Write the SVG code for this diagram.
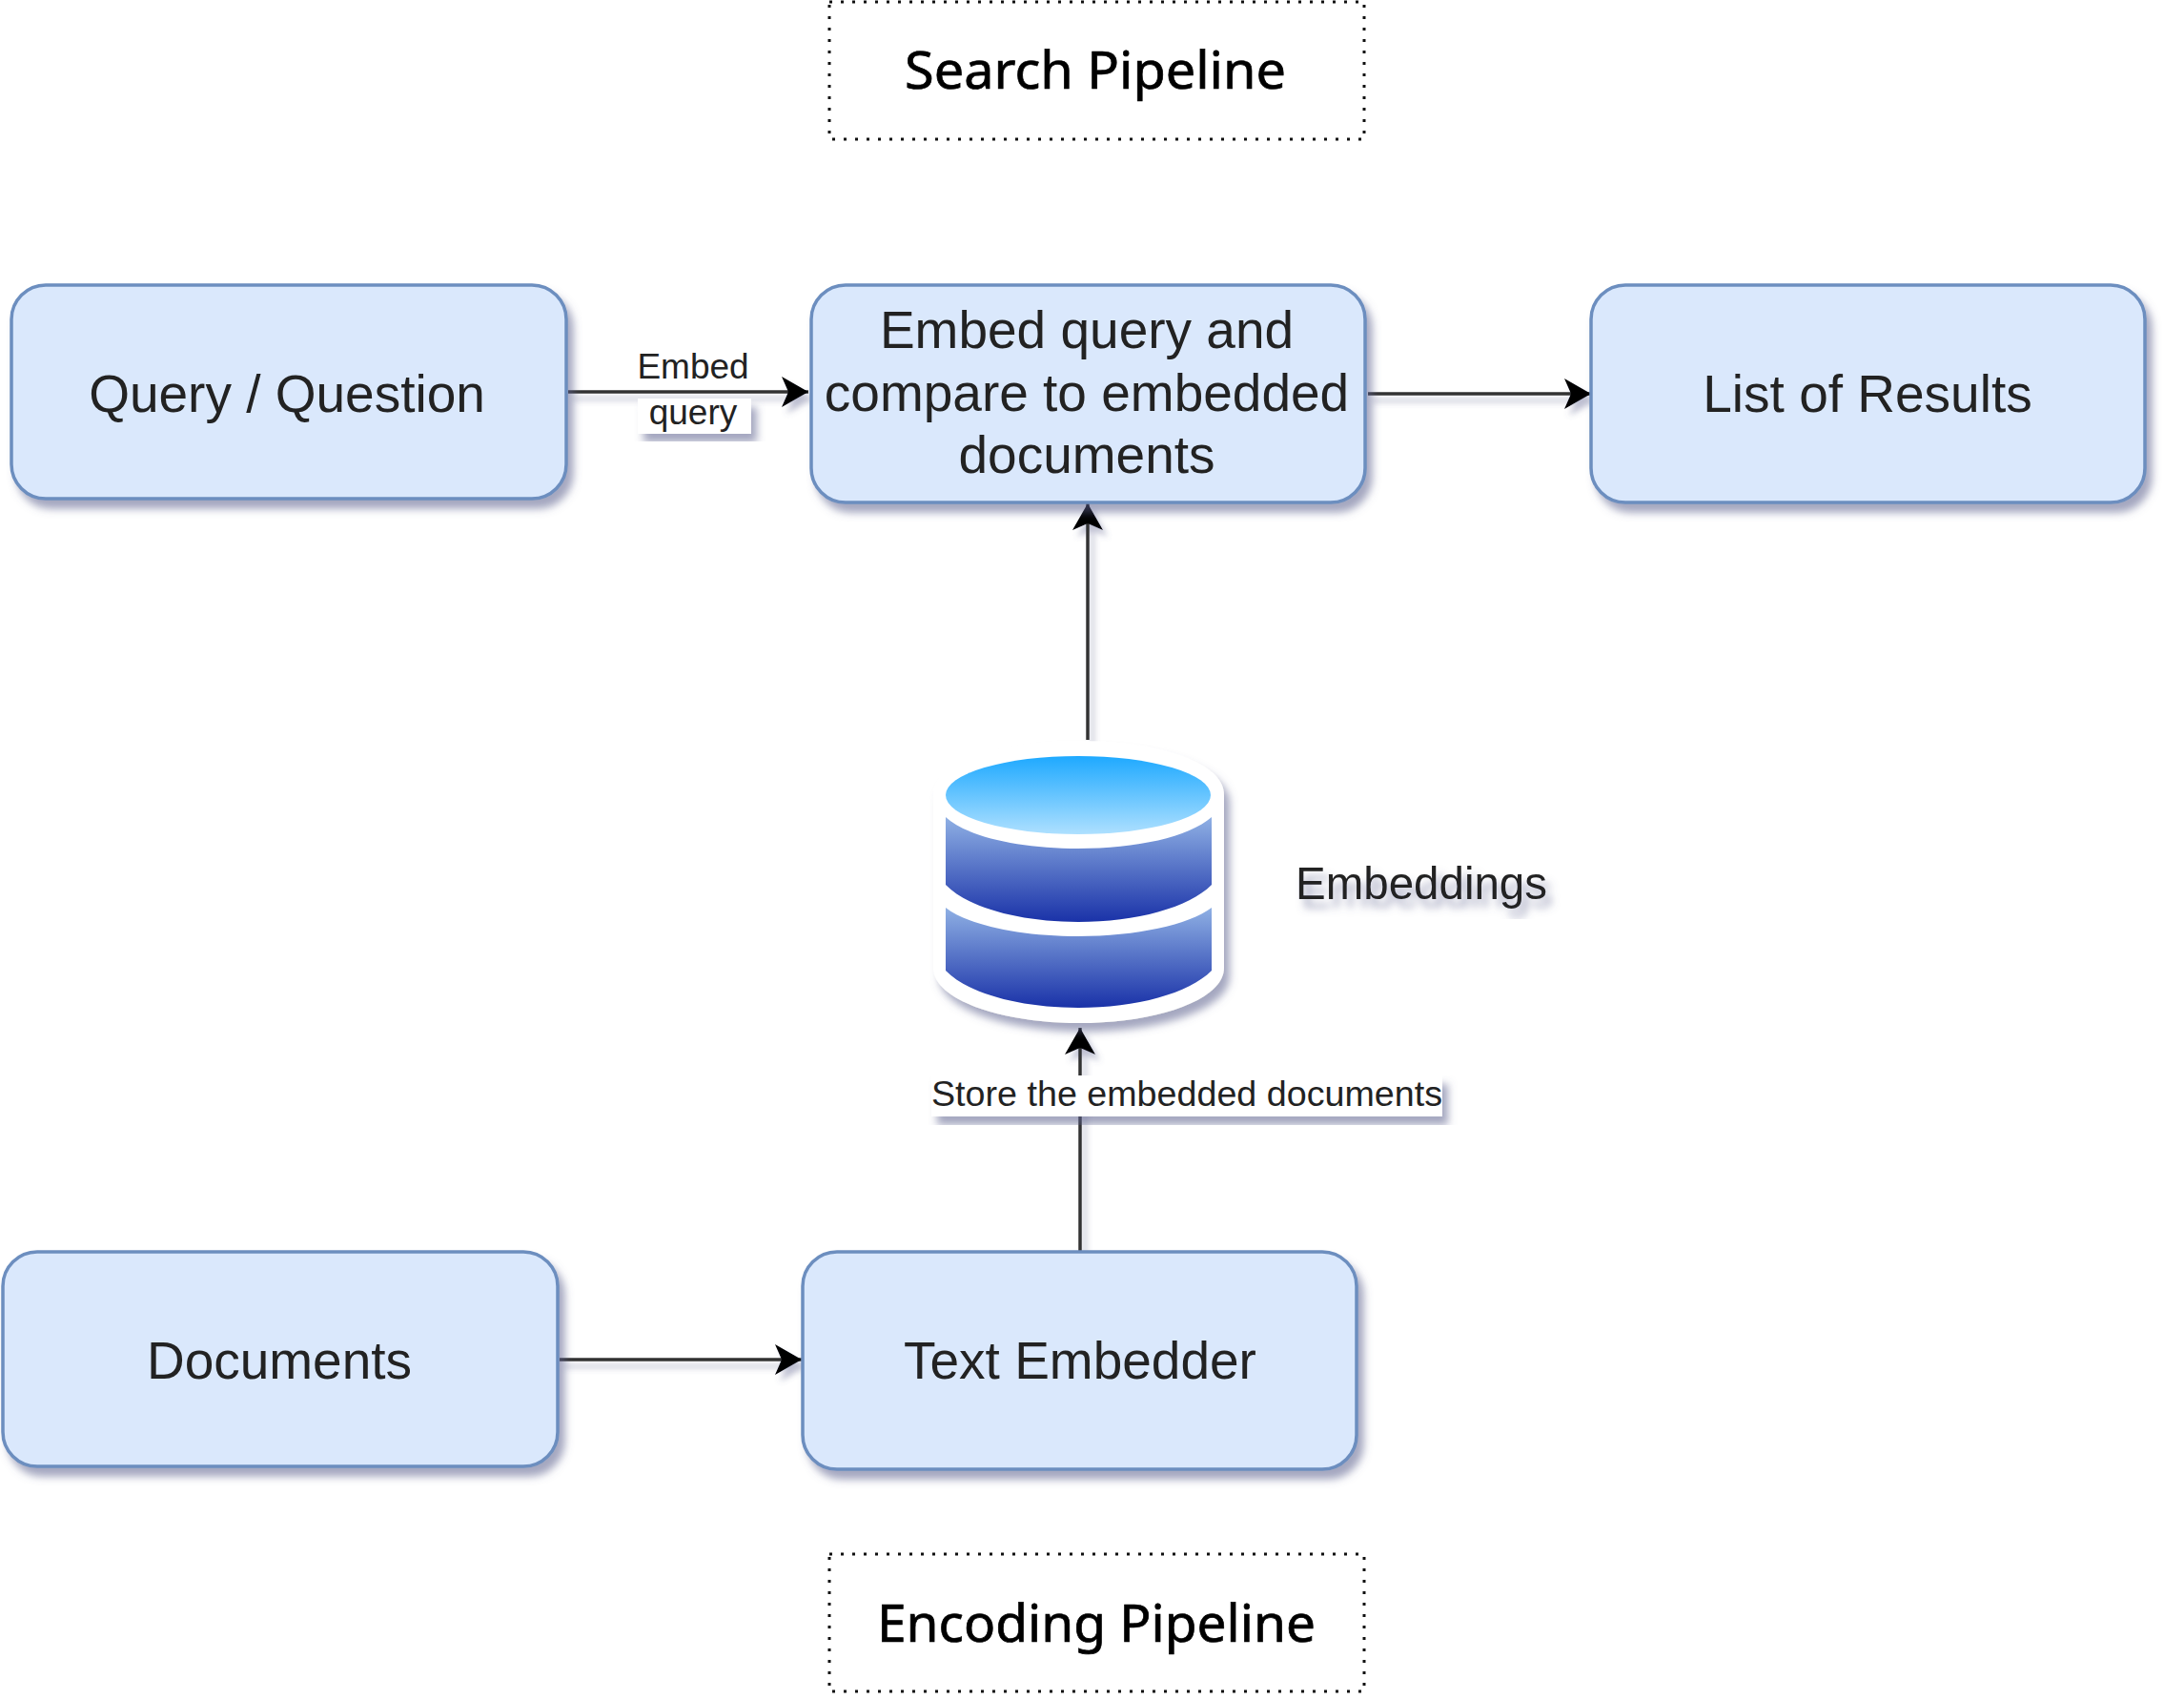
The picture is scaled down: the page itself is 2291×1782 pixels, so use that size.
<svg xmlns="http://www.w3.org/2000/svg" width="2291" height="1782" viewBox="0 0 2291 1782">
<style>
.box{fill:#dae8fc;stroke:#6c8ebf;stroke-width:3.5}
.lbl{font-family:"Liberation Sans",Arial,sans-serif;fill:#222;text-anchor:middle}
.big{font-size:55px}
.small{font-size:37px}
.title{font-family:"Noto Sans","Open Sans",sans-serif;font-size:54px;fill:#000;stroke:#000;stroke-width:0.7;text-anchor:middle}
.dot{fill:none;stroke:#111;stroke-width:3;stroke-dasharray:3 9}
.conn{fill:none;stroke:#333;stroke-width:3.5}
.sh{filter:url(#shadow)}
</style>
<defs>
<filter id="shadow" x="-20%" y="-20%" width="140%" height="140%">
<feGaussianBlur in="SourceAlpha" stdDeviation="4" result="b"/>
<feOffset in="b" dx="6" dy="9" result="o"/>
<feFlood flood-color="#5a5f8c" flood-opacity="0.55"/>
<feComposite in2="o" operator="in" result="s"/>
<feGaussianBlur in="SourceGraphic" stdDeviation="0.6" result="g"/>
<feMerge><feMergeNode in="s"/><feMergeNode in="g"/></feMerge>
</filter>
<filter id="lineshadow" filterUnits="userSpaceOnUse" x="0" y="0" width="2291" height="1782">
<feGaussianBlur in="SourceAlpha" stdDeviation="3" result="b"/>
<feOffset in="b" dx="5" dy="7" result="o"/>
<feFlood flood-color="#5a5f8c" flood-opacity="0.4"/>
<feComposite in2="o" operator="in" result="s"/>
<feMerge><feMergeNode in="s"/><feMergeNode in="SourceGraphic"/></feMerge>
</filter>
<marker id="arrow" markerUnits="userSpaceOnUse" markerWidth="30" markerHeight="34" refX="28" refY="17" orient="auto">
<path d="M0,1 L28,17 L0,33 L7,17 Z" fill="#000"/>
</marker>
<linearGradient id="top" x1="0" y1="0" x2="0" y2="1"><stop offset="0" stop-color="#1ea9ff"/><stop offset="1" stop-color="#aee0ff"/></linearGradient>
<linearGradient id="band" x1="0" y1="0" x2="0" y2="1"><stop offset="0" stop-color="#8fb0e4"/><stop offset="1" stop-color="#1a32a8"/></linearGradient>
</defs>

<g id="connectors" filter="url(#lineshadow)">
<path class="conn" d="M596,411 H848" marker-end="url(#arrow)"/>
<path class="conn" d="M1435,413 H1669" marker-end="url(#arrow)"/>
<path class="conn" d="M1141,776 V528" marker-end="url(#arrow)"/>
<path class="conn" d="M1133,1312 V1078" marker-end="url(#arrow)"/>
<path class="conn" d="M587,1426 H841" marker-end="url(#arrow)"/>
</g>

<g id="search-pipeline">
<rect class="dot" x="870" y="2" width="561" height="144"/>
<text class="title" x="1149" y="93" textLength="400" lengthAdjust="spacingAndGlyphs">Search Pipeline</text>
</g>

<g id="query">
<rect class="box sh" x="12" y="299" width="582" height="224" rx="36"/>
<text class="lbl big" x="301" y="432">Query / Question</text>
</g>

<g id="embed-query-label">
<g class="sh"><rect x="669" y="418" width="119" height="37" fill="#fff"/></g>
<rect x="669" y="364" width="119" height="40" fill="#fff"/>
<text class="lbl small" x="727" y="397">Embed</text>
<text class="lbl small" x="727" y="445">query</text>
</g>

<g id="embed-compare">
<rect class="box sh" x="851" y="299" width="581" height="228" rx="36"/>
<text class="lbl big" x="1140" y="365">Embed query and</text>
<text class="lbl big" x="1140" y="431">compare to embedded</text>
<text class="lbl big" x="1140" y="496">documents</text>
</g>

<g id="results">
<rect class="box sh" x="1669" y="299" width="581" height="228" rx="36"/>
<text class="lbl big" x="1959" y="432">List of Results</text>
</g>

<g id="embeddings-db">
<g class="sh">
<path fill="#fff" d="M979,834 C979,796 1060,777 1132,777 C1204,777 1284,796 1284,834 V1015 C1284,1050 1210,1073 1132,1073 C1054,1073 979,1050 979,1015 Z"/>
</g>
<ellipse cx="1131" cy="834" rx="139" ry="41" fill="url(#top)"/>
<path fill="url(#band)" d="M992,857 C1015,878 1070,890 1131,890 C1192,890 1247,878 1271,857 V928 C1247,952 1192,967 1131,967 C1070,967 1015,952 992,928 Z"/>
<path fill="url(#band)" d="M992,952 C1015,970 1070,982 1131,982 C1192,982 1247,970 1271,952 V1018 C1247,1042 1192,1057 1131,1057 C1070,1057 1015,1042 992,1018 Z"/>
<text class="lbl" style="font-size:47.5px" x="1491" y="943" filter="url(#shadow)">Embeddings</text>
</g>

<g id="store-label">
<g class="sh"><rect x="977" y="1128" width="536" height="43" fill="#fff"/></g>
<text class="lbl small" x="1245" y="1160" textLength="536" lengthAdjust="spacingAndGlyphs">Store the embedded documents</text>
</g>

<g id="documents">
<rect class="box sh" x="3" y="1313" width="582" height="225" rx="36"/>
<text class="lbl big" x="293" y="1446">Documents</text>
</g>

<g id="text-embedder">
<rect class="box sh" x="842" y="1313" width="581" height="228" rx="36"/>
<text class="lbl big" x="1133" y="1446">Text Embedder</text>
</g>

<g id="encoding-pipeline">
<rect class="dot" x="870" y="1630" width="561" height="144"/>
<text class="title" x="1150" y="1722" textLength="460" lengthAdjust="spacingAndGlyphs">Encoding Pipeline</text>
</g>
</svg>
